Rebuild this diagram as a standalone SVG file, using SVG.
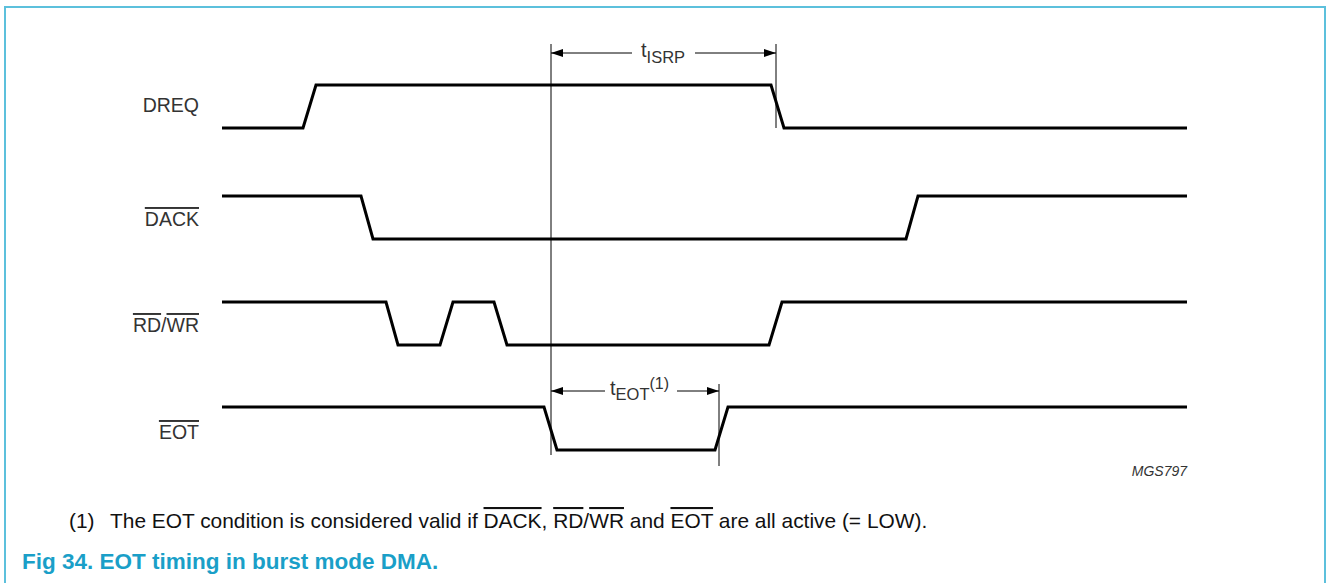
<svg xmlns="http://www.w3.org/2000/svg" width="1327" height="583" viewBox="0 0 1327 583">
<style>
text { font-family: "Liberation Sans", Arial, sans-serif; fill: #333; }
.lbl { font-size: 19.5px; text-anchor: end; }
.sig { fill: none; stroke: #000; stroke-width: 3; stroke-linejoin: miter; }
.thin { stroke: #000; stroke-width: 1; fill: none; }
.ov { text-decoration: overline; }
.fn { font-size: 20.9px; fill: #111; }
.title { font-size: 22.5px; font-weight: bold; fill: #1a9fc8; }
</style>
<defs>
<marker id="ah" markerWidth="12" markerHeight="8" refX="12" refY="4" orient="auto-start-reverse" markerUnits="userSpaceOnUse">
<path d="M0,0 L12,4 L0,8 Z" fill="#000"/>
</marker>
</defs>
<path d="M5,583 V7 H1325 V583" fill="none" stroke="#5cc0dc" stroke-width="2"/>

<g id="DREQ">
<text class="lbl" x="199" y="112">DREQ</text>
<path class="sig" d="M222,128 H303 L316,85 H771 L784,128 H1187"/>
</g>
<g id="DACK">
<text class="lbl" x="199" y="226"><tspan class="ov">DACK</tspan></text>
<path class="sig" d="M222,196 H361 L373,239 H906 L918,196 H1187"/>
</g>
<g id="RDWR">
<text class="lbl" x="199" y="332"><tspan class="ov">RD</tspan>/<tspan class="ov">WR</tspan></text>
<path class="sig" d="M222,302 H386 L398,345 H440 L453,302 H494 L507,345 H769 L782,302 H1187"/>
</g>
<g id="EOT">
<text class="lbl" x="199" y="439"><tspan class="ov">EOT</tspan></text>
<path class="sig" d="M222,407 H544 L557,450 H715 L728,407 H1187"/>
</g>

<g id="connectors">
<line class="thin" x1="551" y1="44" x2="551" y2="455"/>
<line class="thin" x1="776" y1="44" x2="776" y2="128"/>
<line class="thin" x1="719" y1="384" x2="719" y2="466"/>
<line class="thin" x1="551" y1="53" x2="632" y2="53" marker-start="url(#ah)"/>
<line class="thin" x1="695" y1="53" x2="776" y2="53" marker-end="url(#ah)"/>
<line class="thin" x1="551" y1="391" x2="605" y2="391" marker-start="url(#ah)"/>
<line class="thin" x1="677" y1="391" x2="719" y2="391" marker-end="url(#ah)"/>
</g>

<g id="tISRP">
<text x="641" y="57" style="font-size:20px">t<tspan dy="6" style="font-size:16.5px">ISRP</tspan></text>
</g>
<g id="tEOT">
<text x="610" y="395" style="font-size:20px">t<tspan dy="5" style="font-size:16.5px">EOT</tspan><tspan dy="-11" style="font-size:16px">(1)</tspan></text>
</g>

<text x="1187" y="476" style="font-size:14px;font-style:italic;text-anchor:end">MGS797</text>

<text class="fn" y="528"><tspan x="69">(1)</tspan><tspan x="110">The EOT condition is considered valid if </tspan><tspan class="ov">DACK</tspan>, <tspan class="ov">RD</tspan>/<tspan class="ov">WR</tspan> and <tspan class="ov">EOT</tspan> are all active (= LOW).</text>
<text class="title" x="22" y="569">Fig 34.  EOT timing in burst mode DMA.</text>
</svg>
